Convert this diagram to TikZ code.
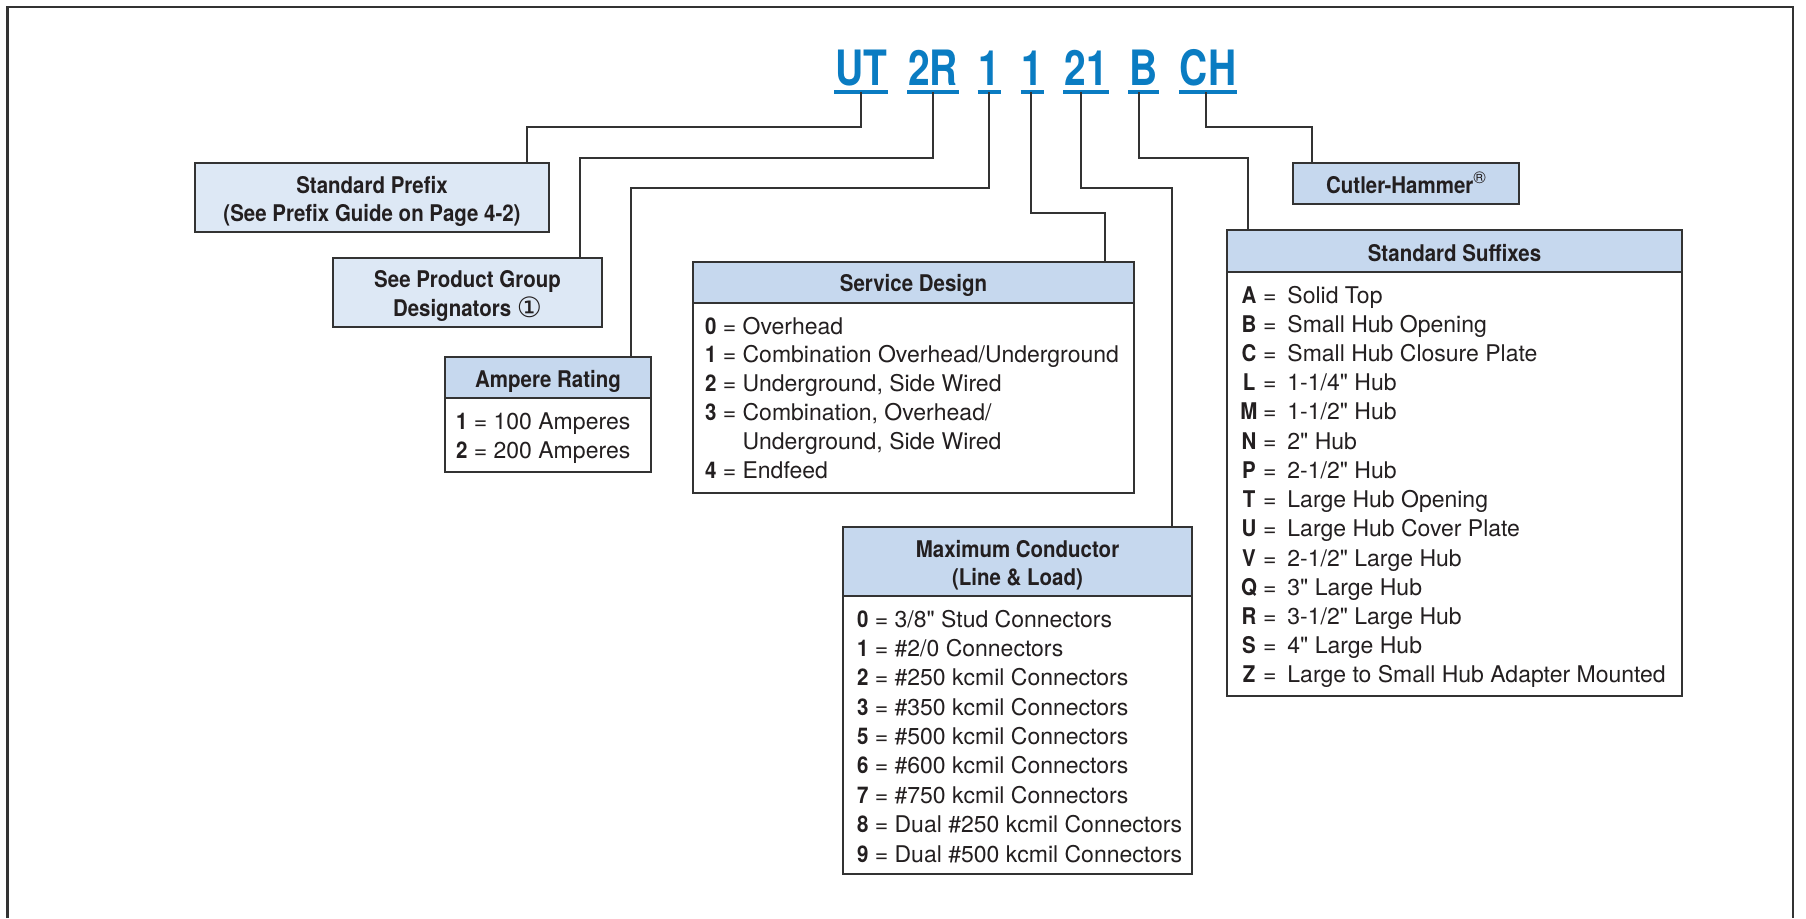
\documentclass[tikz,border=0pt]{standalone}
\usepackage{fontspec}
\setmainfont{TeX Gyre Heros}[BoldFeatures={FakeStretch=0.89}]
\newfontfamily\codefont{TeX Gyre Heros}[FakeStretch=0.8]
\newfontfamily\symfont{DejaVu Sans}
\usetikzlibrary{calc}
\definecolor{codeblue}{HTML}{0A7CC2}
\definecolor{hdrfill}{HTML}{C6D8EE}
\definecolor{lightfill}{HTML}{DDE8F5}
\definecolor{linec}{HTML}{333333}
\definecolor{txtc}{HTML}{231F20}
\newcommand{\inch}{\textquotedbl}
\begin{document}
\begin{tikzpicture}[x=1pt,y=-1pt,
  every node/.style={inner sep=0pt, outer sep=0pt, text=txtc},
  box/.style={draw=linec, line width=2pt, anchor=north west},
  hdrbox/.style={box, fill=hdrfill},
  litebox/.style={box, fill=lightfill},
  bodybox/.style={box, fill=white},
  hdrtxt/.style={anchor=base, font=\fontsize{23}{28}\selectfont\bfseries},
  rowtxt/.style={anchor=base west, font=\fontsize{23}{29}\selectfont},
  code/.style={anchor=base, font=\codefont\bfseries\fontsize{48.7}{50}\selectfont, text=codeblue},
  uline/.style={draw=codeblue, line width=3.5pt},
  conn/.style={draw=linec, line width=1.8pt},
  frame/.style={draw=linec, line width=2.2pt}
]
\useasboundingbox (0,0) rectangle (1806,918);
\fill[white] (0,0) rectangle (1806,918);
\draw[frame] (7.5,918) -- (7.5,7) -- (1793,7) -- (1793,918);

% catalogue number
\node[code] (cUT) at (861,85) {UT};
\node[code] (c2R) at (933,85) {2R};
\node[code] (c1a) at (989.5,85) {1};
\node[code] (c1b) at (1032.5,85) {1};
\node[code] (c21) at (1086,85) {21};
\node[code] (cB) at (1143.5,85) {B};
\node[code] (cCH) at (1208,85) {CH};
\foreach \n in {cUT,c2R,c1a,c1b,c21,cB,cCH}
  \draw[uline] ([xshift=-1pt,yshift=-7pt]\n.base west) -- ([xshift=1pt,yshift=-7pt]\n.base east);

% Standard Prefix
\node[litebox, minimum width=354pt, minimum height=69pt] (sp) at (195,163) {};
\node[hdrtxt] (spt1) at (372,193) {Standard Prefix};
\node[hdrtxt] (spt2) at (372,221) {(See Prefix Guide on Page 4-2)};

% Product group
\node[litebox, minimum width=269pt, minimum height=69pt] (pg) at (333,258) {};
\node[hdrtxt] (pgt1) at (467.5,287) {See Product Group};
\node[hdrtxt] (pgt2) at (467.5,316) {Designators {\symfont\mdseries\fontsize{28}{28}\selectfont\raisebox{-1pt}{①}}};

% Ampere Rating
\node[hdrbox, minimum width=206pt, minimum height=41pt] (arH) at (445,357) {};
\node[bodybox, minimum width=206pt, minimum height=74pt] (arB) at (445,398) {};
\node[hdrtxt] (arHt) at (548,387) {Ampere Rating};
\node[rowtxt] (ar1) at (456,429) {\textbf{1} = 100 Amperes};
\node[rowtxt] (ar2) at (456,458) {\textbf{2} = 200 Amperes};

% Service Design
\node[hdrbox, minimum width=441pt, minimum height=41pt] (sdH) at (693,262) {};
\node[bodybox, minimum width=441pt, minimum height=190pt] (sdB) at (693,303) {};
\node[hdrtxt] (sdHt) at (913.5,291) {Service Design};
\node[rowtxt] (sd0) at (705,334) {\textbf{0} = Overhead};
\node[rowtxt] (sd1) at (705,362.8) {\textbf{1} = Combination Overhead/Underground};
\node[rowtxt] (sd2) at (705,391.6) {\textbf{2} = Underground, Side Wired};
\node[rowtxt] (sd3) at (705,420.4) {\textbf{3} = Combination, Overhead/};
\node[rowtxt] (sd3b) at (705,449.2) {\phantom{\textbf{3} = }Underground, Side Wired};
\node[rowtxt] (sd4) at (705,478) {\textbf{4} = Endfeed};

% Maximum Conductor
\node[hdrbox, minimum width=349pt, minimum height=69pt] (mcH) at (843,527) {};
\node[bodybox, minimum width=349pt, minimum height=278pt] (mcB) at (843,596) {};
\node[hdrtxt] (mcHt1) at (1017.5,557) {Maximum Conductor};
\node[hdrtxt] (mcHt2) at (1017.5,585) {(Line \& Load)};
\node[rowtxt] (mc0) at (857,627) {\textbf{0} = 3/8\inch{} Stud Connectors};
\node[rowtxt] (mc1) at (857,656.4) {\textbf{1} = \#2/0 Connectors};
\node[rowtxt] (mc2) at (857,685.8) {\textbf{2} = \#250 kcmil Connectors};
\node[rowtxt] (mc3) at (857,715.1) {\textbf{3} = \#350 kcmil Connectors};
\node[rowtxt] (mc5) at (857,744.5) {\textbf{5} = \#500 kcmil Connectors};
\node[rowtxt] (mc6) at (857,773.9) {\textbf{6} = \#600 kcmil Connectors};
\node[rowtxt] (mc7) at (857,803.3) {\textbf{7} = \#750 kcmil Connectors};
\node[rowtxt] (mc8) at (857,832.6) {\textbf{8} = Dual \#250 kcmil Connectors};
\node[rowtxt] (mc9) at (857,862) {\textbf{9} = Dual \#500 kcmil Connectors};

% Cutler-Hammer
\node[hdrbox, minimum width=226pt, minimum height=41pt] (ch) at (1293,163) {};
\node[hdrtxt] (cht) at (1406,193) {Cutler-Hammer\raisebox{10pt}{\mdseries\fontsize{17}{17}\selectfont ®}};

% Standard Suffixes
\node[hdrbox, minimum width=455pt, minimum height=42pt] (ssH) at (1227,230) {};
\node[bodybox, minimum width=455pt, minimum height=424pt] (ssB) at (1227,272) {};
\node[hdrtxt] (ssHt) at (1454.5,261) {Standard Suffixes};
\foreach \l/\t [count=\i from 0] in {A/{Solid Top}, B/{Small Hub Opening}, C/{Small Hub Closure Plate},
  L/{1-1/4\inch{} Hub}, M/{1-1/2\inch{} Hub}, N/{2\inch{} Hub}, P/{2-1/2\inch{} Hub}, T/{Large Hub Opening},
  U/{Large Hub Cover Plate}, V/{2-1/2\inch{} Large Hub}, Q/{3\inch{} Large Hub}, R/{3-1/2\inch{} Large Hub},
  S/{4\inch{} Large Hub}, Z/{Large to Small Hub Adapter Mounted}}
  \node[rowtxt] (ss\i) at (1235,{303+29.23*\i}) {\makebox[28pt][c]{\bfseries\l}=\hspace{11pt}\t};

% connectors
\draw[conn] ([yshift=-7pt]cUT.base) -- ++(0,35) -| ($(sp.north west)+(332,0)$);
\draw[conn] ([yshift=-7pt]c2R.base) -- ++(0,66) -| ($(pg.north west)+(247,0)$);
\draw[conn] ([xshift=-0.5pt,yshift=-7pt]c1a.base) -- ++(0,96) -| ($(arH.north west)+(186,0)$);
\draw[conn] ([xshift=-1.5pt,yshift=-7pt]c1b.base) -- ++(0,121) -| ($(sdH.north west)+(412,0)$);
\draw[conn] ([xshift=-5pt,yshift=-7pt]c21.base) -- ++(0,96) -| ($(mcH.north west)+(329,0)$);
\draw[conn] ([xshift=-4.5pt,yshift=-7pt]cB.base) -- ++(0,66) -| ($(ssH.north west)+(21,0)$);
\draw[conn] ([xshift=-2pt,yshift=-7pt]cCH.base) -- ++(0,35) -| ($(ch.north west)+(19,0)$);
\end{tikzpicture}
\end{document}
